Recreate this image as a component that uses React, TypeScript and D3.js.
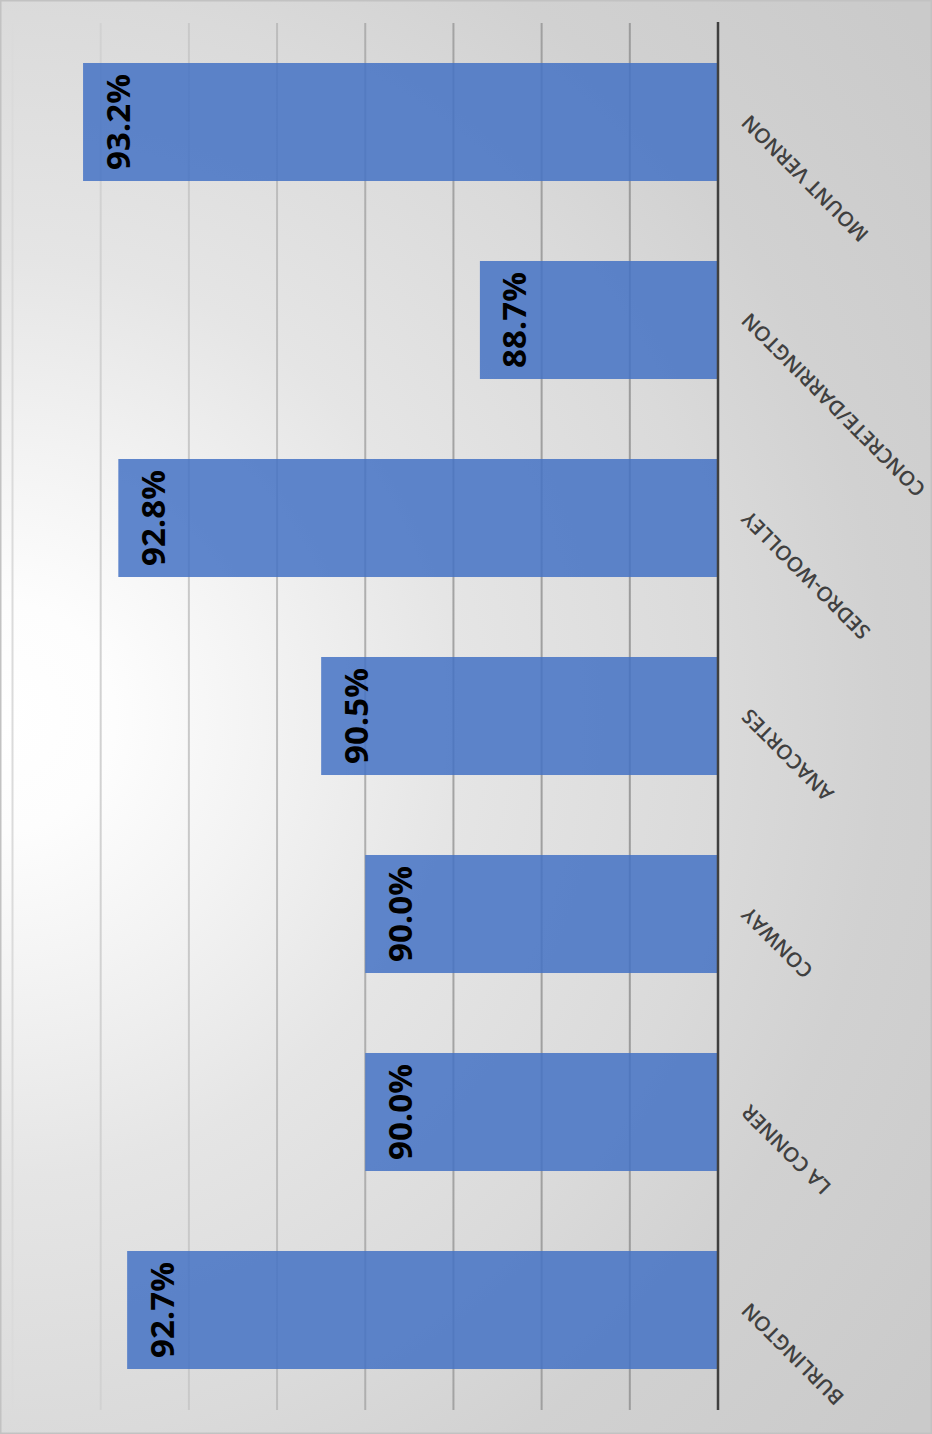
import React from "react";
import * as d3 from "d3";

const categories = [
  "MOUNT VERNON",
  "CONCRETE/DARRINGTON",
  "SEDRO-WOOLLEY",
  "ANACORTES",
  "CONWAY",
  "LA CONNER",
  "BURLINGTON",
];
const values = [93.2, 88.7, 92.8, 90.5, 90.0, 90.0, 92.7];
const valueLabels = ["93.2%", "88.7%", "92.8%", "90.5%", "90.0%", "90.0%", "92.7%"];
const gridTicks = [86, 87, 88, 89, 90, 91, 92, 93, 94];

const W = 932;
const H = 1434;

export default function App() {
  const x = d3.scaleLinear().domain([86, 94]).range([718, 12.5]);
  const y = d3
    .scaleBand<string>()
    .domain(categories)
    .range([23, 1409])
    .paddingInner(0.404)
    .paddingOuter(0.202);
  const base = x(86);

  return (
    <svg
      width={W}
      height={H}
      style={{ position: "absolute", left: 0, top: 0, display: "block" }}
    >
      <defs>
        <radialGradient id="bg" gradientUnits="userSpaceOnUse" cx={0} cy={717} r={1150}>
          <stop offset="0" stopColor="#ffffff" />
          <stop offset="0.1" stopColor="#fdfdfd" />
          <stop offset="0.23" stopColor="#f3f3f3" />
          <stop offset="0.4" stopColor="#e5e5e5" />
          <stop offset="0.63" stopColor="#dadada" />
          <stop offset="0.77" stopColor="#d1d1d1" />
          <stop offset="1" stopColor="#cacaca" />
        </radialGradient>
        <linearGradient id="gridg" gradientUnits="userSpaceOnUse" x1={0} y1={0} x2={718} y2={0}>
          <stop offset="0" stopColor="#dcdcdc" />
          <stop offset="0.3" stopColor="#c6c6c6" />
          <stop offset="0.6" stopColor="#a4a4a4" />
          <stop offset="1" stopColor="#989898" />
        </linearGradient>
      </defs>
      <rect x={0} y={0} width={W} height={H} fill="url(#bg)" />
      <rect x={0.75} y={0.75} width={W - 1.5} height={H - 1.5} fill="none" stroke="#c2c2c2" strokeWidth={1.5} />

      {gridTicks.slice(1).map((t) => (
        <line
          key={t}
          x1={x(t)}
          x2={x(t)}
          y1={23}
          y2={1410}
          stroke="url(#gridg)"
          strokeWidth={2}
        />
      ))}

      {categories.map((c, i) => (
        <rect
          key={c}
          x={x(values[i])}
          y={y(c)!}
          width={base - x(values[i])}
          height={y.bandwidth()}
          fill="#4472C4"
          fillOpacity={0.85}
        />
      ))}

      <line x1={base} x2={base} y1={22} y2={1410} stroke="#404040" strokeWidth={2.5} />

      {categories.map((c, i) => (
        <text
          key={"v" + c}
          transform={`translate(${x(values[i]) + 34},${y(c)! + y.bandwidth() / 2}) rotate(-90)`}
          textAnchor="middle"
          dominantBaseline="central"
          fontFamily="'Open Sans', sans-serif"
          fontWeight={700}
          fontSize={33}
          fill="#000000"
        >
          {valueLabels[i]}
        </text>
      ))}

      {categories.map((c) => (
        <text
          key={"c" + c}
          transform={`translate(${base + 22},${y(c)! + y.bandwidth() / 2 + 2}) rotate(225)`}
          textAnchor="end"
          dy="0.72em"
          fontFamily="'Open Sans', sans-serif"
          fontWeight={600}
          fontSize={20.5}
          fill="#404040"
        >
          {c}
        </text>
      ))}
    </svg>
  );
}
